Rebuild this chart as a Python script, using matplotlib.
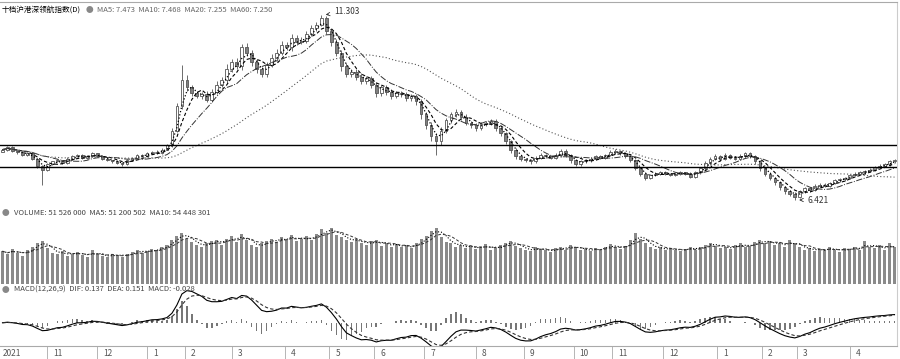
import numpy as np
import pandas as pd
import matplotlib
matplotlib.use("Agg")
import matplotlib.pyplot as plt
import matplotlib.transforms as mtransforms

plt.rcParams['font.family'] = ['Noto Sans CJK SC', 'DejaVu Sans']

# ==========================================
# 数据
# ==========================================
first_open = 7.70
close = [
    7.75, 7.81, 7.72, 7.68, 7.61, 7.65, 7.51, 7.33, 7.22, 7.36,
    7.44, 7.47, 7.40, 7.51, 7.58, 7.61, 7.53, 7.58, 7.65, 7.58,
    7.51, 7.47, 7.44, 7.40, 7.36, 7.47, 7.54, 7.61, 7.58, 7.65,
    7.70, 7.67, 7.75, 7.86, 8.25, 8.89, 9.60, 9.39, 9.24, 9.17,
    9.21, 9.07, 9.28, 9.46, 9.60, 9.88, 10.06, 9.95, 10.45, 10.31,
    10.06, 9.88, 9.74, 9.99, 10.17, 10.31, 10.52, 10.45, 10.70, 10.59,
    10.63, 10.80, 10.95, 11.05, 11.23, 10.88, 10.59, 10.31, 9.95, 9.74,
    9.81, 9.67, 9.56, 9.63, 9.46, 9.24, 9.39, 9.28, 9.17, 9.24,
    9.21, 9.10, 9.17, 9.03, 8.68, 8.39, 8.11, 7.97, 8.25, 8.53,
    8.68, 8.75, 8.61, 8.46, 8.39, 8.32, 8.43, 8.46, 8.50, 8.32,
    8.18, 7.97, 7.75, 7.58, 7.51, 7.47, 7.44, 7.54, 7.61, 7.58,
    7.54, 7.61, 7.72, 7.61, 7.47, 7.36, 7.44, 7.47, 7.51, 7.58,
    7.54, 7.61, 7.68, 7.72, 7.65, 7.58, 7.47, 7.26, 7.12, 7.01,
    7.08, 7.12, 7.15, 7.12, 7.08, 7.12, 7.15, 7.12, 7.04, 7.15,
    7.26, 7.40, 7.51, 7.58, 7.51, 7.61, 7.54, 7.51, 7.58, 7.65,
    7.58, 7.44, 7.26, 7.12, 7.01, 6.90, 6.76, 6.65, 6.58, 6.51,
    6.65, 6.73, 6.69, 6.80, 6.83, 6.80, 6.87, 6.94, 6.97, 7.01,
    7.08, 7.12, 7.15, 7.19, 7.22, 7.29, 7.33, 7.36, 7.44, 7.47,
]
# 上下影线长度 (千分之一元)
wick_hi = [
    30, 25, 40, 20, 35, 28, 45, 30, 25, 40,
    22, 30, 18, 35, 25, 30, 20, 28, 35, 22,
    18, 25, 20, 30, 22, 28, 24, 35, 20, 30,
    25, 32, 40, 45, 60, 90, 380, 120, 70, 60,
    55, 80, 65, 90, 70, 120, 85, 100, 75, 110,
    70, 90, 60, 80, 95, 85, 110, 70, 95, 80,
    90, 75, 100, 60, 73, 40, 60, 85, 70, 95,
    80, 65, 90, 70, 60, 85, 70, 60, 75, 65,
    55, 70, 60, 50, 45, 60, 80, 70, 90, 65,
    75, 60, 50, 70, 55, 60, 45, 55, 70, 50,
    45, 40, 35, 50, 40, 30, 45, 35, 40, 30,
    35, 50, 60, 40, 30, 35, 30, 40, 45, 30,
    40, 35, 50, 45, 30, 35, 30, 40, 35, 30,
    28, 35, 25, 30, 22, 25, 30, 20, 28, 35,
    40, 45, 50, 55, 40, 45, 35, 40, 50, 45,
    40, 35, 30, 35, 30, 30, 25, 35, 30, 40,
    35, 30, 40, 35, 30, 28, 35, 30, 25, 30,
    35, 30, 40, 35, 45, 30, 35, 40, 30, 45,
]
wick_lo = [
    25, 30, 20, 35, 28, 30, 40, 60, 400, 35,
    25, 20, 30, 22, 28, 20, 25, 30, 22, 28,
    25, 20, 30, 28, 35, 22, 28, 20, 25, 30,
    20, 25, 30, 22, 30, 40, 60, 90, 80, 70,
    75, 60, 55, 70, 65, 80, 90, 70, 100, 85,
    90, 110, 80, 70, 65, 75, 60, 80, 90, 70,
    60, 75, 55, 70, 50, 80, 100, 90, 120, 85,
    75, 90, 80, 70, 95, 100, 85, 75, 80, 70,
    65, 70, 60, 90, 110, 100, 120, 360, 90, 70,
    65, 70, 80, 60, 75, 70, 55, 60, 50, 65,
    70, 80, 90, 85, 60, 50, 60, 45, 40, 55,
    45, 40, 50, 55, 60, 50, 45, 40, 35, 45,
    40, 35, 30, 45, 40, 45, 50, 60, 55, 60,
    40, 35, 45, 30, 35, 30, 35, 40, 45, 30,
    35, 40, 45, 40, 50, 40, 45, 35, 40, 45,
    50, 60, 70, 65, 60, 70, 75, 80, 60, 89,
    40, 45, 50, 40, 35, 40, 35, 30, 35, 40,
    30, 35, 40, 30, 35, 35, 30, 40, 35, 30,
]
volume = [
    42, 38, 45, 40, 36, 44, 48, 52, 55, 46,
    40, 38, 42, 36, 39, 41, 37, 35, 43, 38,
    36, 34, 39, 37, 35, 38, 41, 44, 40, 42,
    45, 43, 48, 50, 56, 62, 66, 58, 54, 50,
    48, 52, 55, 57, 50, 58, 62, 54, 64, 56,
    50, 47, 52, 55, 58, 54, 60, 57, 63, 55,
    58, 61, 56, 64, 70, 66, 72, 63, 60, 57,
    54, 58, 52, 50, 55, 56, 49, 53, 48, 51,
    47, 50, 46, 52, 58, 61, 68, 72, 60, 54,
    52, 48, 50, 46, 49, 45, 47, 51, 44, 46,
    50, 53, 55, 49, 46, 44, 42, 47, 45, 43,
    41, 46, 48, 44, 50, 47, 43, 45, 42, 46,
    44, 48, 51, 47, 45, 49, 56, 66, 58, 52,
    48, 45, 47, 43, 46, 44, 42, 45, 48, 43,
    47, 50, 53, 49, 46, 48, 45, 50, 52, 47,
    49, 54, 57, 52, 55, 50, 53, 48, 56, 51,
    47, 44, 46, 42, 45, 43, 47, 44, 41, 46,
    45, 48, 44, 55, 47, 46, 50, 43, 52, 48,
]
levels = [7.87, 7.29]
month_pos = [9, 19, 29, 36.6, 46, 56.6, 65.6, 74.6, 84.6, 95,
             104.6, 114.6, 122.4, 132.6, 143.4, 152.4, 159.4, 170]
month_labels = ["11", "12", "1", "2", "3", "4", "5", "6", "7", "8",
                "9", "10", "11", "12", "1", "2", "3", "4"]

title_name = "十档沪港深领航指数(D)"
title_ma = "MA5: 7.473  MA10: 7.468  MA20: 7.255  MA60: 7.250"
vol_text = "VOLUME: 51 526 000  MA5: 51 200 502  MA10: 54 448 301"
macd_text = "MACD(12,26,9)  DIF: 0.137  DEA: 0.151  MACD: -0.028"

# ==========================================
# 派生序列
# ==========================================
c = np.array(close)
o = np.r_[first_open, c[:-1]]
h = np.maximum(o, c) + np.array(wick_hi) / 1000
l = np.minimum(o, c) - np.array(wick_lo) / 1000
x = np.arange(len(c))
s = pd.Series(c)
v = pd.Series(volume, dtype=float)

# 每根K线约等于 2 个交易日, 均线窗口按比例缩放
ma_lines = [(3, ':', 'black', 0.9), (5, (0, (3, 2)), 'black', 0.8),
            (10, '-.', '#333333', 0.7), (30, (0, (1, 2)), '#555555', 0.8)]

ema_fast = s.ewm(span=6, adjust=False).mean()
ema_slow = s.ewm(span=12, adjust=False).mean()
dif = ema_fast - ema_slow
dea = dif.ewm(span=4, adjust=False).mean()
hist = 2 * (dif - dea)

# ==========================================
# 画布布局 (按像素)
# ==========================================
W, H = 900, 359
fig = plt.figure(figsize=(9, 3.59), dpi=100)
renderer = fig.canvas.get_renderer()


def box(x0, y0, x1, y1):
    return [x0 / W, 1 - y1 / H, (x1 - x0) / W, (y1 - y0) / H]


def text_row(x0, y, parts):
    """依次排列多段文字, 返回最后的右边界(像素)"""
    xp = x0
    for txt, size, col in parts:
        t = fig.text(xp / W, 1 - y / H, txt, fontsize=size, color=col, va='center')
        bb = t.get_window_extent(renderer)
        xp = bb.x1 + 4
    return xp


ax1 = fig.add_axes(box(0, 2, 897, 206))
ax2 = fig.add_axes(box(0, 206, 897, 284), sharex=ax1)
ax3 = fig.add_axes(box(0, 284, 897, 346), sharex=ax1)

for ax in (ax1, ax2, ax3):
    ax.set_xlim(-0.5, len(c) - 0.5)
    ax.tick_params(left=False, labelleft=False, right=False, labelright=False,
                   bottom=False, labelbottom=False)
    for sp in ax.spines.values():
        sp.set_visible(False)
    ax.spines['right'].set_visible(True)
    ax.spines['right'].set_color('#cccccc')
    ax.spines['right'].set_linewidth(0.8)
ax1.spines['top'].set_visible(True)
ax1.spines['top'].set_color('#aaaaaa')

# 主图 K 线
up = c >= o
ax1.vlines(x, l, h, color='#555555', lw=0.6, zorder=2)
body = np.maximum(np.abs(c - o), 0.004)
ax1.bar(x[up], body[up], bottom=np.minimum(o, c)[up], width=0.55,
        color='white', edgecolor='#555555', linewidth=0.6, zorder=3)
ax1.bar(x[~up], body[~up], bottom=np.minimum(o, c)[~up], width=0.55,
        color='#808080', edgecolor='#555555', linewidth=0.6, zorder=3)

for win, ls, col, lw in ma_lines:
    ax1.plot(x, s.rolling(win, min_periods=1).mean(), ls=ls, color=col,
             lw=lw, zorder=4)

for lv in levels:
    ax1.axhline(lv, color='black', lw=1.0, zorder=5)

ax1.set_ylim(6.263, 11.646)

imax = int(np.argmax(h))
imin = int(np.argmin(l))
ax1.annotate(f"{h[imax]:.3f}", xy=(imax + 0.3, h[imax]), xytext=(imax + 2.5, h[imax] + 0.08),
             fontsize=6, color='#333333', va='center',
             arrowprops=dict(arrowstyle='->', color='#333333', lw=0.6))
ax1.annotate(f"{l[imin]:.3f}", xy=(imin + 0.3, l[imin]), xytext=(imin + 2.5, l[imin]),
             fontsize=6, color='#333333', va='center',
             arrowprops=dict(arrowstyle='->', color='#333333', lw=0.6))

# 成交量
ax2.bar(x, v, width=0.6, color='#8a8a8a', linewidth=0)
ax2.plot(x, v.rolling(3, min_periods=1).mean(), ls=':', color='black', lw=0.8)
ax2.plot(x, v.rolling(5, min_periods=1).mean(), ls=(0, (3, 2)), color='#333333', lw=0.7)
ax2.set_ylim(0, 100)

# MACD
ax3.bar(x, hist, width=0.3, color='#777777', linewidth=0)
ax3.plot(x, dif, color='black', lw=0.8)
ax3.plot(x, dea, ls=(0, (3, 2)), color='#333333', lw=0.8)
top = max(dif.max(), dea.max()) * 35 / 29
ax3.set_ylim(-top * 21 / 35, top)

# 时间轴
ax3.spines['bottom'].set_visible(True)
ax3.spines['bottom'].set_color('#aaaaaa')
ax3.set_xticks(month_pos)
ax3.tick_params(bottom=True, direction='out', length=9, width=0.6, color='#aaaaaa')
trans = mtransforms.blended_transform_factory(ax3.transData, fig.transFigure)
for pos, lab in zip(month_pos, month_labels):
    fig.text(pos + 1.2, 1 - 353 / H, lab, transform=trans, fontsize=6,
             color='#555555', va='center', ha='left')
fig.text(3 / W, 1 - 353 / H, "2021", fontsize=6, color='#555555', va='center')

# 标题文字
text_row(2, 10, [(title_name, 5.5, 'black'), ("●", 5.5, '#888888'), (title_ma, 5.5, '#666666')])
text_row(2, 213, [("●", 5.5, '#888888'), (vol_text, 5.5, '#444444')])
text_row(2, 290, [("●", 5.5, '#888888'), (macd_text, 5.5, '#444444')])

fig.savefig("out.png", dpi=100)
